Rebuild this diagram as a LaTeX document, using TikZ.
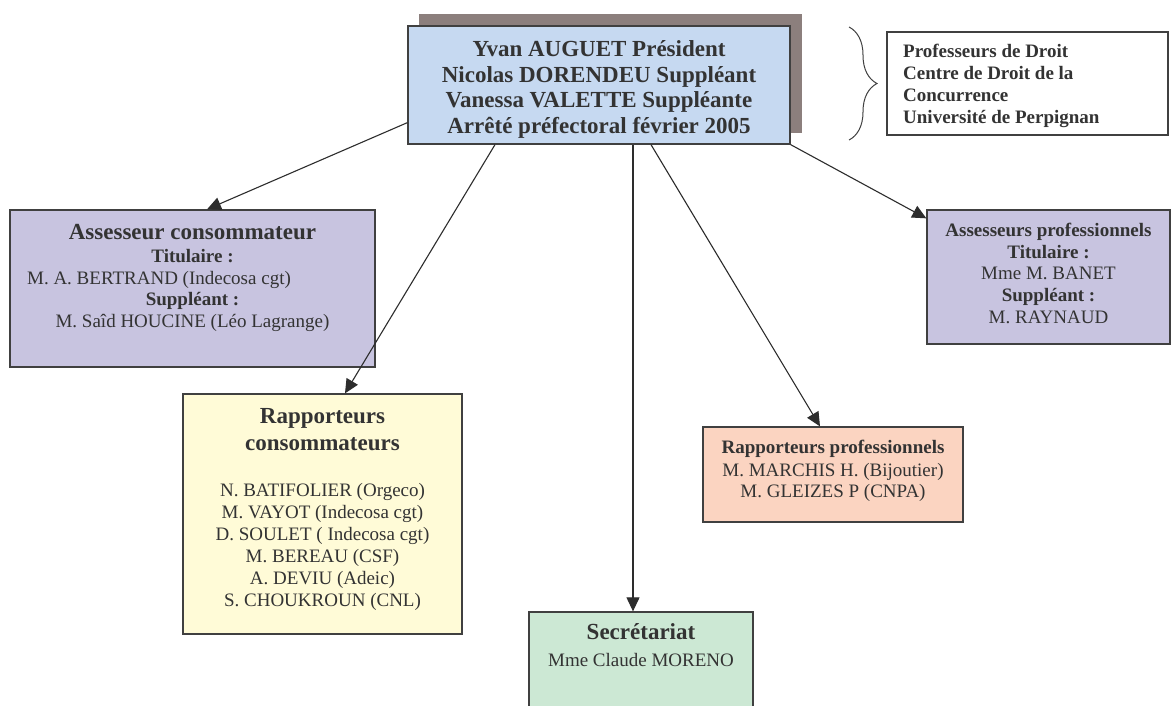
\documentclass[tikz,border=0pt]{standalone}
\usepackage{fontspec}
\setmainfont{Liberation Serif}
\usetikzlibrary{arrows.meta,decorations.pathreplacing}
\definecolor{mainblue}{RGB}{198,217,241}
\definecolor{shadowc}{RGB}{140,127,125}
\definecolor{lav}{RGB}{200,196,224}
\definecolor{yel}{RGB}{255,251,215}
\definecolor{salmon}{RGB}{251,212,193}
\definecolor{greenb}{RGB}{204,232,212}
\definecolor{bord}{RGB}{64,64,64}
\definecolor{txt}{RGB}{51,51,51}
\definecolor{linec}{RGB}{45,45,45}
\tikzset{
  box/.style={draw=bord, line width=1.3pt, inner sep=0pt},
  tl/.style={anchor=base, text=txt, font=\fontsize{23}{27}\selectfont\bfseries, inner sep=0pt},
  hb/.style={anchor=base, text=txt, font=\fontsize{19}{22}\selectfont\bfseries, inner sep=0pt},
  tx/.style={anchor=base, text=txt, font=\fontsize{19}{22}\selectfont, inner sep=0pt},
  arr/.style={draw=linec, line width=1.1pt, -{Triangle[length=14pt,width=13pt]}},
}
\begin{document}
\begin{tikzpicture}[x=1pt,y=-1pt]
\fill[white] (0,0) rectangle (1172,706);
\clip (0,0) rectangle (1172,706);
% shadow and main box
\fill[shadowc] (419,14) rectangle (802,133);
\node[box, fill=mainblue, minimum width=382pt, minimum height=118pt] (m) at (599,85) {};
\node[tl] (m1) at (599,57) {Yvan AUGUET Président};
\node[tl] (m2) at (599,82.5) {Nicolas DORENDEU Suppléant};
\node[tl] (m3) at (599,108) {Vanessa VALETTE Suppléante};
\node[tl] (m4) at (599,134) {Arrêté préfectoral février 2005};
% brace and note
\draw[draw=bord, line width=1pt, decorate, decoration={brace, amplitude=28pt}] (849,27) -- (849,140);
\node[draw=bord, line width=1.2pt, fill=white, minimum width=281pt, minimum height=103pt, inner sep=0pt] (nb) at (1027.5,83.5) {};
\node[hb, anchor=base west] (n1) at (903,58) {Professeurs de Droit};
\node[hb, anchor=base west] (n2) at (903,80) {Centre de Droit de la};
\node[hb, anchor=base west] (n3) at (903,102) {Concurrence};
\node[hb, anchor=base west] (n4) at (903,124) {Université de Perpignan};
% assesseur consommateur
\node[box, fill=lav, minimum width=365pt, minimum height=157pt] (ac) at (192.5,288.5) {};
\node[tl] (ac1) at (192.5,239) {Assesseur consommateur};
\node[hb] (ac2) at (192.5,262) {Titulaire :};
\node[tx] (ac3) at (159,284) {M. A. BERTRAND (Indecosa cgt)};
\node[hb] (ac4) at (192.5,305) {Suppléant :};
\node[tx] (ac5) at (192.5,327) {M. Saîd HOUCINE (Léo Lagrange)};
% assesseurs professionnels
\node[box, fill=lav, minimum width=243pt, minimum height=134pt] (ap) at (1048.5,277) {};
\node[hb] (ap1) at (1048.5,236) {Assesseurs professionnels};
\node[hb] (ap2) at (1048.5,258) {Titulaire :};
\node[tx] (ap3) at (1048.5,279) {Mme M. BANET};
\node[hb] (ap4) at (1048.5,301) {Suppléant :};
\node[tx] (ap5) at (1048.5,323) {M. RAYNAUD};
% rapporteurs consommateurs
\node[box, fill=yel, minimum width=279pt, minimum height=240pt] (rc) at (322.5,514) {};
\node[tl] (rc1) at (322.5,423) {Rapporteurs};
\node[tl] (rc2) at (322.5,450) {consommateurs};
\node[tx] (rc3) at (322.5,496) {N. BATIFOLIER (Orgeco)};
\node[tx] (rc4) at (322.5,518) {M. VAYOT (Indecosa cgt)};
\node[tx] (rc5) at (322.5,540) {D. SOULET ( Indecosa cgt)};
\node[tx] (rc6) at (322.5,562) {M. BEREAU (CSF)};
\node[tx] (rc7) at (322.5,584) {A. DEVIU (Adeic)};
\node[tx] (rc8) at (322.5,606) {S. CHOUKROUN (CNL)};
% rapporteurs professionnels
\node[box, fill=salmon, minimum width=260pt, minimum height=95pt] (rp) at (833,474.5) {};
\node[hb] (rp1) at (833,453) {Rapporteurs professionnels};
\node[tx] (rp2) at (833,476) {M. MARCHIS H. (Bijoutier)};
\node[tx] (rp3) at (833,497) {M. GLEIZES P (CNPA)};
% secretariat
\node[box, fill=greenb, minimum width=224pt, minimum height=104pt] (sec) at (641,664) {};
\node[tl] (sec1) at (641,639) {Secrétariat};
\node[tx] (sec2) at (641,666) {Mme Claude MORENO};
% connectors
\draw[arr] ([yshift=22pt]m.south west) -- ([xshift=14.5pt]ac.north);
\draw[arr] ([xshift=-104pt]m.south) -- ([xshift=22.5pt]rc.north);
\draw[arr] ([xshift=34pt]m.south) -- ([xshift=-8pt]sec.north);
\draw[arr] ([xshift=52pt]m.south) -- ([xshift=-13pt]rp.north);
\draw[arr] (m.south east) -- ([yshift=-9pt]ap.north west);
\end{tikzpicture}
\end{document}
